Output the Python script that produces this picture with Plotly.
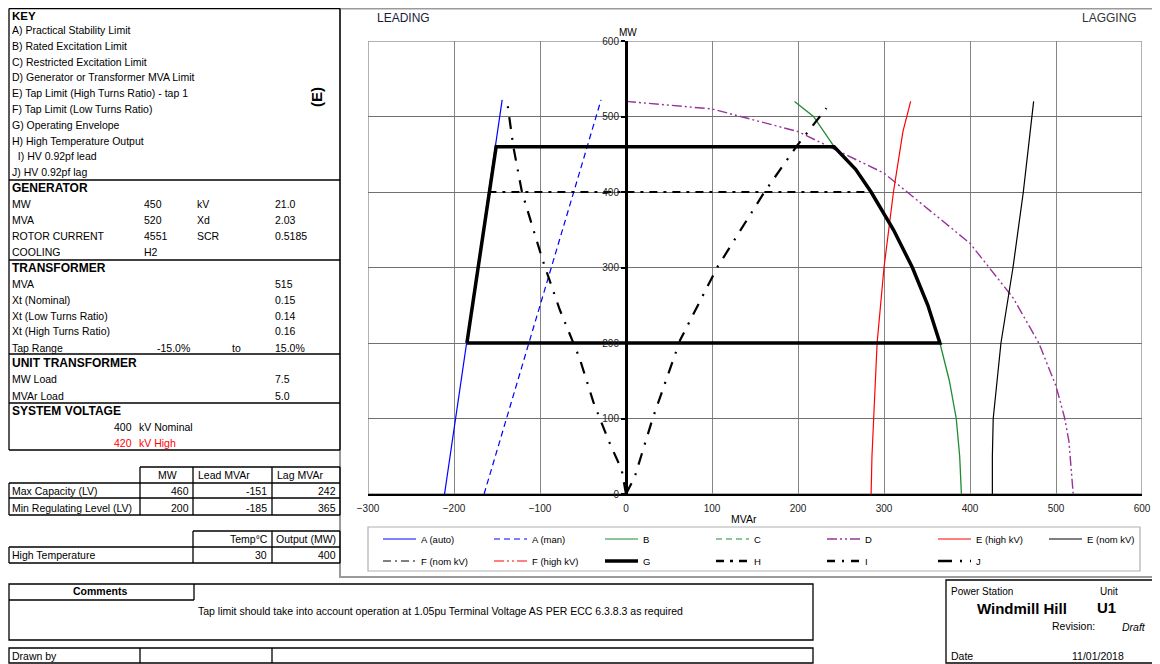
import plotly.graph_objects as go

W, H = 1160, 664
OFF = 8  # page body margin offset
def px(x): return (x - OFF) / W
def py(y): return 1 - (y - OFF) / H

# ---------------- data ----------------
mvar_ticks = [-300, -200, -100, 0, 100, 200, 300, 400, 500, 600]
mw_ticks = [0, 100, 200, 300, 400, 500, 600]

a_auto_q = [-211, -144]
a_auto_p = [0, 522]
a_man_q = [-165, -29]
a_man_p = [0, 522]
b_q = [196, 218, 242, 267, 285, 311, 333, 351, 365, 376, 384, 388, 390]
b_p = [520, 500, 460, 430, 400, 350, 300, 250, 200, 150, 100, 50, 0]
d_q = [0, 100, 200, 300, 400, 450, 480, 500, 510, 515, 520]
d_p = [520, 510, 480, 425, 332, 260, 200, 143, 101, 70, 0]
e_high_q = [285, 286, 288, 292, 300, 311, 322, 331]
e_high_p = [0, 50, 100, 200, 300, 400, 480, 520]
e_nom_q = [426, 426, 427, 436, 450, 462, 470, 474]
e_nom_p = [0, 50, 100, 200, 300, 400, 480, 520]
g_q = [-185, -151, 242, 267, 285, 311, 333, 351, 365, -185]
g_p = [200, 460, 460, 430, 400, 350, 300, 250, 200, 200]
h_q = [-160, 285]
h_p = [400, 400]
i_q = [0, -5, -20, -38, -54, -77, -97, -121, -131, -138]
i_p = [0, 32, 70, 122, 180, 244, 310, 400, 460, 518]
j_q = [0, 10, 31, 63, 106, 161, 198, 233]
j_p = [0, 22, 100, 204, 300, 400, 460, 511]

key_items = ["A) Practical Stability Limit", "B) Rated Excitation Limit",
             "C) Restricted Excitation Limit", "D) Generator or Transformer MVA Limit",
             "E) Tap Limit (High Turns Ratio) - tap 1", "F) Tap Limit (Low Turns Ratio)",
             "G) Operating Envelope", "H) High Temperature Output",
             "  I) HV 0.92pf lead", "J) HV 0.92pf lag"]
gen_rows = [("MW", "450", "kV", "21.0"), ("MVA", "520", "Xd", "2.03"),
            ("ROTOR CURRENT", "4551", "SCR", "0.5185"), ("COOLING", "H2", "", "")]
tr_rows = [("MVA", "515"), ("Xt (Nominal)", "0.15"), ("Xt (Low Turns Ratio)", "0.14"),
           ("Xt (High Turns Ratio)", "0.16")]
tap_range = ("Tap Range", "-15.0%", "to", "15.0%")
ut_rows = [("MW Load", "7.5"), ("MVAr Load", "5.0")]
cap_header = ["MW", "Lead MVAr", "Lag MVAr"]
cap_rows = [("Max Capacity (LV)", "460", "-151", "242"),
            ("Min Regulating Level (LV)", "200", "-185", "365")]
ht_header = ["Temp\u00b0C", "Output (MW)"]
ht_row = ("High Temperature", "30", "400")

BLUE, GREEN, PURPLE, RED, BLACK = "#0000ff", "#1e8c32", "#993399", "#ff0000", "#000000"
DASH = "6px,4px"
DDOT = "10px,3px,2px,3px,2px,3px"
legend_items = [
    ("A (auto)", BLUE, "solid", 1.2), ("A (man)", BLUE, DASH, 1.2), ("B", GREEN, "solid", 1.2),
    ("C", GREEN, DASH, 1.2), ("D", PURPLE, DDOT, 1.5), ("E (high kV)", RED, "solid", 1.2),
    ("E (nom kV)", BLACK, "solid", 1.2),
    ("F (nom kV)", BLACK, "8px,4px,2px,4px", 1.2), ("F (high kV)", RED, DDOT, 1.2),
    ("G", BLACK, "solid", 3.5), ("H", BLACK, "8px,6px,3px,6px", 2.5),
    ("I", BLACK, "8px,7px,2px,7px", 2.5), ("J", BLACK, "14px,8px,2px,8px", 2.5),
]

FONT = "Liberation Sans, Arial, sans-serif"
TS = 10.5   # table text size
HS = 12     # section header size
fig = go.Figure()

def line_trace(q, p, color, dash, width):
    fig.add_trace(go.Scatter(x=q, y=p, mode="lines", showlegend=False, hoverinfo="skip",
                             line=dict(color=color, dash=dash, width=width)))

line_trace(d_q, d_p, PURPLE, DDOT, 1.4)
line_trace(b_q, b_p, GREEN, "solid", 1.3)
line_trace(e_high_q, e_high_p, RED, "solid", 1.2)
line_trace(e_nom_q, e_nom_p, BLACK, "solid", 1.2)
line_trace(a_auto_q, a_auto_p, BLUE, "solid", 1.2)
line_trace(a_man_q, a_man_p, BLUE, DASH, 1.2)
line_trace(i_q, i_p, BLACK, "12px,9px,2px,9px", 2.2)
line_trace(j_q, j_p, BLACK, "12px,9px,2px,9px", 2.2)
line_trace(h_q, h_p, BLACK, "8px,6px,3px,6px", 2.2)
line_trace(g_q, g_p, BLACK, "solid", 3.5)

shapes = []
annots = []

def L(x0, y0, x1, y1, color="black", width=1.3, dash="solid"):
    shapes.append(dict(type="line", xref="paper", yref="paper", x0=px(x0), y0=py(y0),
                       x1=px(x1), y1=py(y1), line=dict(color=color, width=width, dash=dash)))

def R(x0, y0, x1, y1, color="black", width=1.3):
    shapes.append(dict(type="rect", xref="paper", yref="paper", x0=px(x0), y0=py(y0),
                       x1=px(x1), y1=py(y1), line=dict(color=color, width=width)))

def T(s, x, y, size=TS, anchor="left", color="black", bold=False, angle=0):
    if bold:
        s = "<b>" + s + "</b>"
    annots.append(dict(text=s, x=px(x), y=py(y), xref="paper", yref="paper", showarrow=False,
                       xanchor=anchor, yanchor="middle", textangle=angle,
                       font=dict(family=FONT, size=size, color=color)))

# plot frame (data coords)
shapes.append(dict(type="rect", xref="x", yref="y", x0=-300, x1=600, y0=0, y1=600,
                   line=dict(color="#999999", width=1.5), layer="below"))

# chart outer frame and legend box
R(340, 8.5, 1158, 577, color="#9a9a9a", width=2)
R(368, 527, 1140, 571, color="#b0b0b0", width=1.2)

# legend
col_x = [383, 494, 605, 716, 827, 938, 1049]
for k, (name, color, dash, width) in enumerate(legend_items):
    r, c = divmod(k, 7)
    yy = 539 if r == 0 else 561
    x0 = col_x[c]
    L(x0, yy, x0 + 33, yy, color=color, width=width, dash=dash)
    T(name, x0 + 36, yy, size=9.5)

# chart labels
T("LEADING", 375, 18, size=12, color="#1a1a3a")
T("LAGGING", 1080, 18, size=12, color="#333333")
T("MW", 628, 32, size=10, anchor="center")
T("MVAr", 744, 519, size=10.5, anchor="center")

# ---------------- left tables ----------------
L(9, 8.5, 340, 8.5)
L(9, 8.5, 9, 450)
L(340, 8.5, 340, 450)
for yy in [180, 260, 354, 403, 450]:
    L(9, yy, 340, yy)
T("KEY", 10, 16, size=11.5, bold=True)
for k, s in enumerate(key_items):
    T(s, 10, 30 + k * 15.8)
T("(E)", 316, 97, size=15, bold=True, anchor="center", angle=-90)

T("GENERATOR", 10, 188, size=HS, bold=True)
for k, (a, b, c, d) in enumerate(gen_rows):
    yy = 204 + k * 16
    T(a, 10, yy)
    T(b, 142, yy)
    T(c, 195, yy)
    T(d, 273, yy)

T("TRANSFORMER", 10, 268, size=HS, bold=True)
for k, (a, b) in enumerate(tr_rows):
    yy = 284 + k * 15.8
    T(a, 10, yy)
    T(b, 273, yy)
T(tap_range[0], 10, 348)
T(tap_range[1], 192, 348, anchor="right")
T(tap_range[2], 230, 348)
T(tap_range[3], 273, 348)

T("UNIT TRANSFORMER", 10, 363, size=HS, bold=True)
for k, (a, b) in enumerate(ut_rows):
    yy = 379 + k * 16.5
    T(a, 10, yy)
    T(b, 273, yy)

T("SYSTEM VOLTAGE", 10, 411, size=HS, bold=True)
T("400", 134, 427, anchor="right")
T("kV Nominal", 137, 427)
T("420", 134, 443, anchor="right", color="#ff0000")
T("kV High", 137, 443, color="#ff0000")

# capacity table
L(140, 467, 340, 467)
for yy in [483, 498, 515]:
    L(9, yy, 340, yy)
L(9, 483, 9, 515)
for xx in [140, 193, 272, 340]:
    L(xx, 467, xx, 515)
T(cap_header[0], 167, 475, anchor="center")
T(cap_header[1], 196, 475)
T(cap_header[2], 275, 475)
for k, (a, b, c, d) in enumerate(cap_rows):
    yy = 491 + k * 16.5
    T(a, 10, yy)
    T(b, 191, yy, anchor="right")
    T(c, 269, yy, anchor="right")
    T(d, 338, yy, anchor="right")

# high temperature table
L(193, 531, 340, 531)
L(9, 547, 340, 547)
L(9, 563, 340, 563)
L(9, 547, 9, 563)
for xx in [193, 272, 340]:
    L(xx, 531, xx, 563)
T(ht_header[0], 270, 539, anchor="right")
T(ht_header[1], 274, 539)
T(ht_row[0], 10, 555)
T(ht_row[1], 269, 555, anchor="right")
T(ht_row[2], 338, 555, anchor="right")

# comments
R(9, 584, 813, 640)
L(9, 600, 194, 600)
L(194, 584, 194, 600)
T("Comments", 100, 591, anchor="center", bold=True)
T("Tap limit should take into account operation at 1.05pu Terminal Voltage AS PER ECC 6.3.8.3 as required",
  440, 611, anchor="center")

# drawn by
R(9, 648, 813, 663)
L(140, 648, 140, 663)
L(272, 648, 272, 663)
T("Drawn by", 10, 656)

# power station box
R(946, 580, 1158, 663)
T("Power Station", 949, 591, size=10)
T("Unit", 1098, 591, size=10)
T("Windmill Hill", 1022, 608, size=15, anchor="center", bold=True)
T("U1", 1106, 607, size=15, anchor="center", bold=True)
T("Revision:", 1050, 626)
T("<i>Draft</i>", 1120, 627)
T("Date", 949, 656)
T("11/01/2018", 1070, 656)

fig.update_layout(
    template="none",
    width=W, height=H, margin=dict(l=0, r=0, t=0, b=0, pad=0, autoexpand=False),
    paper_bgcolor="white", plot_bgcolor="white",
    font=dict(family=FONT, color="#222222"),
    xaxis=dict(domain=[px(368), px(1142)], range=[-300, 600], tickvals=mvar_ticks,
               automargin=False,
               showgrid=True, gridcolor="#858585", gridwidth=1.3, zeroline=False,
               showline=True, linecolor="black", linewidth=2, ticks="",
               tickfont=dict(size=10, color="#222222"), ticklabelstandoff=4, fixedrange=True),
    yaxis=dict(domain=[py(494), py(41)], range=[0, 600], tickvals=mw_ticks,
               anchor="free", position=px(626), automargin=False,
               showgrid=True, gridcolor="#707070", gridwidth=1.3, zeroline=False,
               showline=True, linecolor="black", linewidth=3, ticks="outside", ticklen=4,
               tickwidth=1.5, tickcolor="black",
               tickfont=dict(size=10, color="#222222"), fixedrange=True),
    shapes=shapes, annotations=annots, showlegend=False,
)

fig.write_html("out.html")
